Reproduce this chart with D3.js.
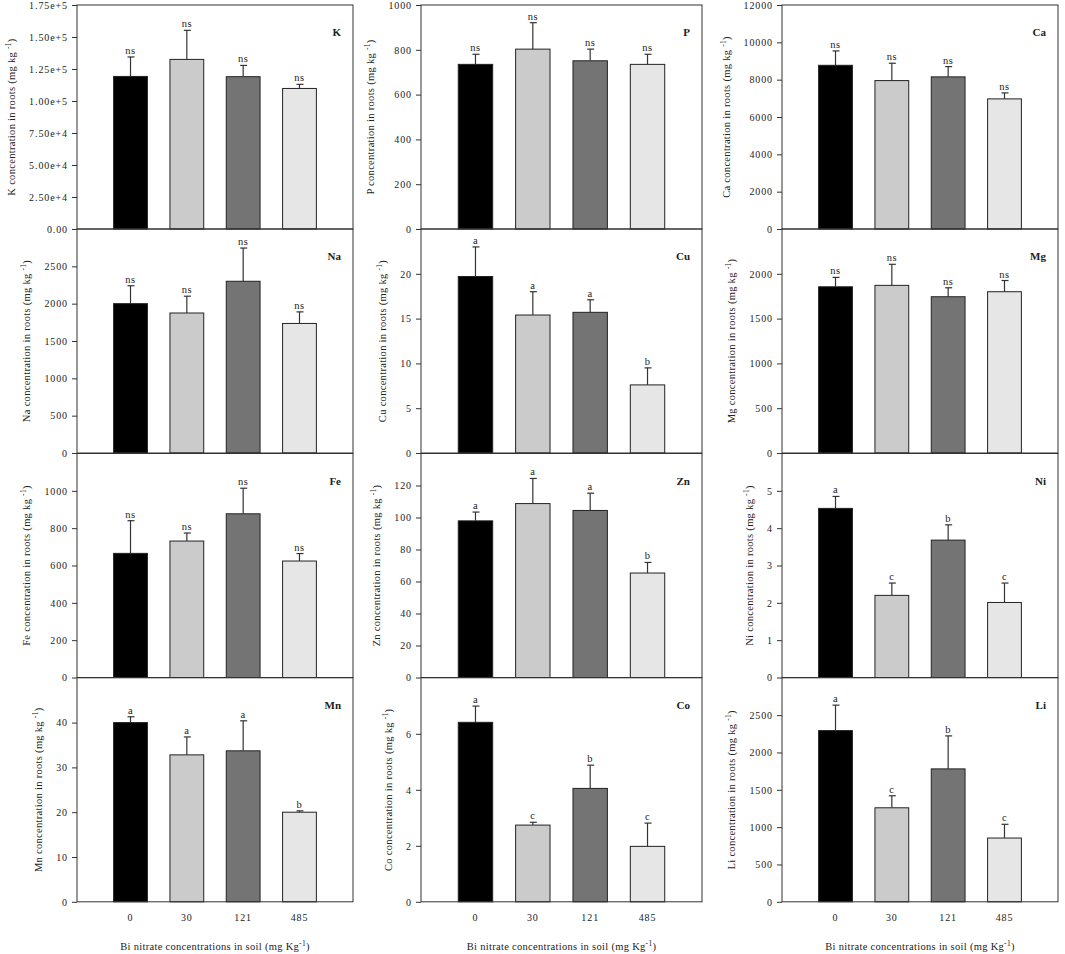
<!DOCTYPE html>
<html>
<head>
<meta charset="utf-8">
<script src="https://cdn.jsdelivr.net/npm/d3@7"></script>
<style>
body { margin: 0; background: #fff; }
svg text { font-family: "Liberation Serif", "Times New Roman", serif; fill: #222; }
</style>
</head>
<body>
<svg id="chart" width="1065" height="954"></svg>
<script>
var doses = ["0", "30", "121", "485"];
var elements = ["K", "P", "Ca", "Na", "Cu", "Mg", "Fe", "Zn", "Ni", "Mn", "Co", "Li"];
var yMax  = [175000, 1000, 12000, 3000, 25, 2500, 1200, 140, 6, 50, 8, 3000];
var yStep = [25000, 200, 2000, 500, 5, 500, 200, 20, 1, 10, 2, 500];

var meanValues = [
    [119200, 132500, 119000, 109800],
    [735, 803, 751, 735],
    [8770, 7950, 8150, 6970],
    [2000, 1875, 2300, 1735],
    [19.7, 15.4, 15.7, 7.6],
    [1855, 1871, 1744, 1800],
    [665, 731, 877, 624],
    [97.9, 108.7, 104.4, 65.3],
    [4.53, 2.2, 3.68, 2.01],
    [40.0, 32.8, 33.7, 20.0],
    [6.41, 2.74, 4.05, 1.98],
    [2293, 1259, 1780, 854]
];
var errValues = [
    [15200, 22700, 8800, 3200],
    [45, 118, 52, 45],
    [770, 930, 550, 320],
    [240, 225, 445, 155],
    [3.3, 2.6, 1.4, 1.9],
    [105, 235, 100, 125],
    [175, 43, 137, 40],
    [5.5, 15.7, 10.8, 6.6],
    [0.32, 0.33, 0.41, 0.52],
    [1.3, 4.0, 6.7, 0.3],
    [0.58, 0.10, 0.83, 0.83],
    [341, 161, 442, 184]
];
var sigLetters = [
    ["ns", "ns", "ns", "ns"],
    ["ns", "ns", "ns", "ns"],
    ["ns", "ns", "ns", "ns"],
    ["ns", "ns", "ns", "ns"],
    ["a", "a", "a", "b"],
    ["ns", "ns", "ns", "ns"],
    ["ns", "ns", "ns", "ns"],
    ["a", "a", "a", "b"],
    ["a", "c", "b", "c"],
    ["a", "a", "a", "b"],
    ["a", "c", "b", "c"],
    ["a", "c", "b", "c"]
];
var barColors = ["#000000", "#cbcbcb", "#747474", "#e6e6e6"];

//Panel grid layout
var colLeft  = [77, 421, 782];
var colRight = [353, 702, 1058];
var rowTop   = [5, 229, 453.5, 677.8];
var rowH = 224;

var svg = d3.select("#chart");

//Draw one element panel
function drawPanel(i) {
    var col = i % 3, row = Math.floor(i / 3);
    var left = colLeft[col], right = colRight[col];
    var top = rowTop[row], bottom = top + rowH;

    var x = d3.scaleBand().domain(doses).range([left, right])
              .paddingInner(0.4).paddingOuter(0.65);
    var y = d3.scaleLinear().domain([0, yMax[i]]).range([bottom, top]);

    var g = svg.append("g").attr("class", "panel");

    //Ticks: first row shows the top value, lower rows leave it to the panel above
    var ticks = d3.range(0, yMax[i] + yStep[i] / 2, yStep[i]);
    if (row > 0) ticks = ticks.filter(function(t) { return t < yMax[i] - yStep[i] / 10; });

    var fmt = elements[i] === "K"
        ? function(v) { return v === 0 ? "0.00" : d3.format(".2e")(v); }
        : d3.format("d");

    var ax = g.append("g")
        .attr("transform", "translate(" + left + ",0)")
        .call(d3.axisLeft(y).tickValues(ticks).tickFormat(fmt).tickSize(5).tickPadding(4));
    ax.select(".domain").remove();
    ax.selectAll("line").attr("stroke", "#333");
    ax.selectAll("text").attr("font-size", "10px").attr("letter-spacing", "0.9px").attr("fill", "#222");

    //Bars
    g.selectAll("rect.bar")
        .data(meanValues[i])
        .enter().append("rect")
        .attr("class", "bar")
        .attr("x", function(d, j) { return x(doses[j]); })
        .attr("y", function(d) { return y(d); })
        .attr("width", x.bandwidth())
        .attr("height", function(d) { return y(0) - y(d); })
        .attr("fill", function(d, j) { return barColors[j]; })
        .attr("stroke", "#222")
        .attr("stroke-width", 1);

    //Error bars (upper only)
    meanValues[i].forEach(function(m, j) {
        var cx = x(doses[j]) + x.bandwidth() / 2;
        var yt = y(m + errValues[i][j]);
        g.append("line").attr("x1", cx).attr("x2", cx).attr("y1", y(m)).attr("y2", yt)
            .attr("stroke", "#333").attr("stroke-width", 1.2);
        g.append("line").attr("x1", cx - 3).attr("x2", cx + 4).attr("y1", yt).attr("y2", yt)
            .attr("stroke", "#333").attr("stroke-width", 1.2);
        g.append("text").attr("x", cx).attr("y", yt - 3)
            .attr("text-anchor", "middle").attr("font-size", "10.5px").attr("letter-spacing", "0.5px")
            .text(sigLetters[i][j]);
    });

    //Frame
    g.append("rect").attr("x", left).attr("y", top)
        .attr("width", right - left).attr("height", rowH)
        .attr("fill", "none").attr("stroke", "#333").attr("stroke-width", 1);

    //Element tag
    g.append("text").attr("x", right - 12).attr("y", top + 31)
        .attr("text-anchor", "end").attr("font-size", "11px").attr("font-weight", "bold")
        .text(elements[i]);

    //Y label placed left of the tick labels
    var bb = ax.node().getBBox();
    var lx = left + bb.x - 14;
    var cy = (top + bottom) / 2;
    var yl = g.append("text")
        .attr("transform", "translate(" + lx + "," + cy + ") rotate(-90)")
        .attr("text-anchor", "middle").attr("font-size", "10.5px").attr("letter-spacing", "0.3px");
    yl.append("tspan").text(elements[i] + " concentration in roots (mg kg ");
    yl.append("tspan").attr("font-size", "7.5px").attr("dy", "-4").text("-1");
    yl.append("tspan").attr("dy", "4").text(")");

    //Bottom row gets dose labels and x title
    if (row === 3) {
        var bx = g.append("g")
            .attr("transform", "translate(0," + bottom + ")")
            .call(d3.axisBottom(x).tickSize(0).tickPadding(12));
        bx.select(".domain").remove();
        bx.selectAll("text").attr("font-size", "10px").attr("letter-spacing", "0.9px").attr("fill", "#222");

        var xt = g.append("text").attr("x", (left + right) / 2).attr("y", 950)
            .attr("text-anchor", "middle").attr("font-size", "10.5px").attr("letter-spacing", "0.3px");
        xt.append("tspan").text("Bi nitrate concentrations in soil (mg Kg");
        xt.append("tspan").attr("font-size", "7.5px").attr("dy", "-4").text("-1");
        xt.append("tspan").attr("dy", "4").text(")");
    }
}

elements.forEach(function(e, i) { drawPanel(i); });
</script>
</body>
</html>
